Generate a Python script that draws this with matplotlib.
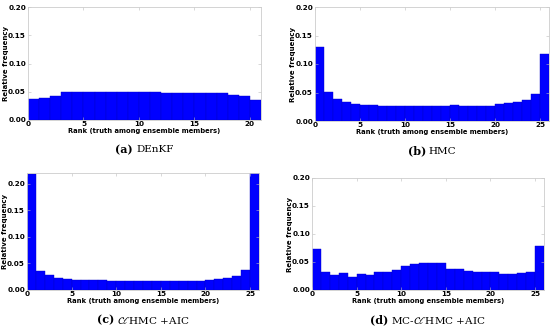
import matplotlib
matplotlib.use("Agg")
import matplotlib.pyplot as plt
import numpy as np

plt.rcParams['mathtext.fontset'] = 'stix'

denkf = [0.038, 0.039, 0.042, 0.049, 0.049, 0.049, 0.050, 0.050, 0.049, 0.049,
         0.050, 0.049, 0.048, 0.048, 0.048, 0.047, 0.047, 0.048, 0.045, 0.042, 0.035]
hmc = [0.129, 0.051, 0.039, 0.033, 0.030, 0.028, 0.028, 0.027, 0.026, 0.026,
       0.026, 0.026, 0.026, 0.026, 0.026, 0.0275, 0.026, 0.027, 0.027, 0.027,
       0.029, 0.031, 0.033, 0.037, 0.048, 0.117]
clhmc = [0.218, 0.036, 0.028, 0.023, 0.021, 0.019, 0.018, 0.018, 0.018, 0.017,
         0.016, 0.016, 0.016, 0.017, 0.016, 0.016, 0.016, 0.017, 0.017, 0.017,
         0.018, 0.020, 0.023, 0.026, 0.037, 0.221]
mcclhmc = [0.0726, 0.033, 0.026, 0.031, 0.023, 0.028, 0.026, 0.033, 0.033, 0.036,
           0.043, 0.046, 0.0476, 0.048, 0.048, 0.038, 0.038, 0.0345, 0.032, 0.032,
           0.0315, 0.0285, 0.0285, 0.030, 0.032, 0.079]

cap_tags = ["(a)", "(b)", "(c)", "(d)"]
cap_names = ["DEnKF", "HMC", r"$\mathcal{C}\ell$HMC +AIC", r"MC-$\mathcal{C}\ell$HMC +AIC"]
series = [denkf, hmc, clhmc, mcclhmc]
ymaxs = [0.20, 0.20, 0.22, 0.20]
yticks = [0.00, 0.05, 0.10, 0.15, 0.20]

W, H = 550, 328
fig = plt.figure(figsize=(5.5, 3.28), dpi=100)
boxes = [(28, 261, 7, 120), (315, 549, 7, 121), (27, 259, 173, 290), (312, 544, 178, 290)]

caps = []
for vals, tag, name, ymax, (l, r, t, b) in zip(series, cap_tags, cap_names, ymaxs, boxes):
    ax = fig.add_axes([l / W, 1 - b / H, (r - l) / W, (b - t) / H])
    n = len(vals)
    x = np.arange(n)
    ax.bar(x, vals, width=1.0, align='edge', color='#0000ff', edgecolor='#0000c8', linewidth=0.3)
    ax.set_xlim(0, n)
    ax.set_ylim(0, ymax)
    ax.set_xticks(np.arange(0, n, 5))
    ax.set_yticks(yticks)
    ax.set_yticklabels([f"{v:.2f}" for v in yticks])
    for lab in ax.get_xticklabels() + ax.get_yticklabels():
        lab.set_fontweight('bold')
    ax.tick_params(direction='in', length=2, width=0.4, color='#bbbbbb', labelsize=5.2,
                   pad=1.5, top=True, right=True)
    ax.tick_params(axis='x', pad=1)
    for s in ax.spines.values():
        s.set_color('#cccccc')
        s.set_linewidth(0.6)
    ax.set_xlabel("Rank (truth among ensemble members)", fontsize=4.9, fontweight='bold')
    ax.set_ylabel("Relative frequency", fontsize=5.0, fontweight='bold')
    ax.xaxis.set_label_coords(0.5, -8.0 / (b - t))
    ax.yaxis.set_label_coords(-19.0 / (r - l), 0.5)
    cx = (l + r) / 2
    cy = H - (b + 30)
    t1 = fig.text(0, 0, tag, fontsize=8, family='DejaVu Serif', fontweight='semibold',
                  va='center', ha='left', transform=None)
    t2 = fig.text(0, 0, name, fontsize=7.5, family='DejaVu Serif', va='center', ha='left',
                  transform=None)
    caps.append((t1, t2, cx, cy))

fig.canvas.draw()
rend = fig.canvas.get_renderer()
for t1, t2, cx, cy in caps:
    w1 = t1.get_window_extent(rend).width
    w2 = t2.get_window_extent(rend).width
    gap = 3
    x0 = cx - (w1 + gap + w2) / 2
    t1.set_position((x0, cy))
    t2.set_position((x0 + w1 + gap, cy))

fig.savefig("out.png", dpi=100)
